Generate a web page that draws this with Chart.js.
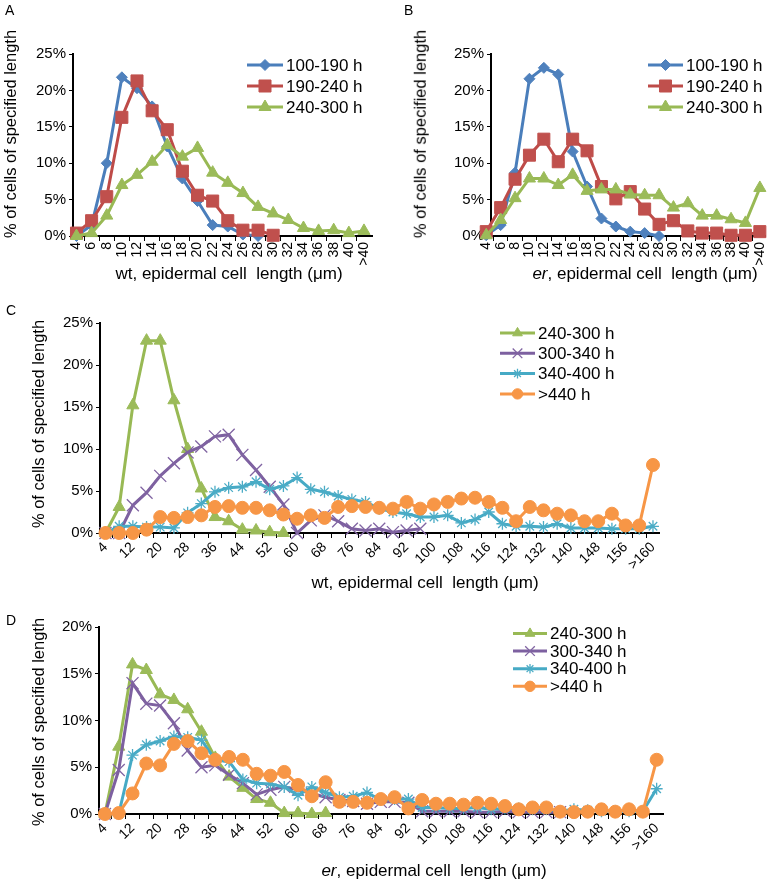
<!DOCTYPE html>
<html>
<head>
<meta charset="utf-8">
<script src="https://cdn.jsdelivr.net/npm/chart.js@4.4.1/dist/chart.umd.min.js"></script>
<style>
  body { margin: 0; background: #fff; overflow: hidden; }
  #fig { position: relative; width: 783px; height: 883px; font-family: "Liberation Sans", Arial, sans-serif; color: #000; }
  #fig canvas { position: absolute; }
  .lbl { position: absolute; white-space: pre; line-height: 1; }
  .letter { font-size: 14px; }
  .xt { font-size: 17px; transform: translate(-50%, -50%); }
  .yt { font-size: 16.5px; transform: translate(-50%, -50%) rotate(-90deg); }
</style>
</head>
<body>
<div id="fig">
  <canvas id="chartA" width="390" height="300" style="left:0;top:0"></canvas>
  <canvas id="chartB" width="393" height="300" style="left:390px;top:0"></canvas>
  <canvas id="chartC" width="783" height="300" style="left:0;top:300px"></canvas>
  <canvas id="chartD" width="783" height="283" style="left:0;top:600px"></canvas>

  <div class="lbl letter" style="left:5px;top:3px">A</div>
  <div class="lbl letter" style="left:404px;top:3px">B</div>
  <div class="lbl letter" style="left:6px;top:303px">C</div>
  <div class="lbl letter" style="left:6px;top:613px">D</div>

  <div class="lbl yt" style="left:10px;top:134px">% of cells of specified length</div>
  <div class="lbl yt" style="left:420px;top:134px">% of cells of specified length</div>
  <div class="lbl yt" style="left:38px;top:424px">% of cells of specified length</div>
  <div class="lbl yt" style="left:38px;top:722px">% of cells of specified length</div>

  <div class="lbl xt" style="left:229px;top:273px">wt, epidermal cell  length (μm)</div>
  <div class="lbl xt" style="left:645px;top:273px"><i>er</i>, epidermal cell  length (μm)</div>
  <div class="lbl xt" style="left:425px;top:582px">wt, epidermal cell  length (μm)</div>
  <div class="lbl xt" style="left:434px;top:870px"><i>er</i>, epidermal cell  length (μm)</div>
</div>

<script>
// categories (cell length bins, µm)
const catsAB = ['4','6','8','10','12','14','16','18','20','22','24','26','28','30','32','34','36','38','40','>40'];
const catsCD = ['4','8','12','16','20','24','28','32','36','40','44','48','52','56','60','64','68','72','76','80',
                '84','88','92','96','100','104','108','112','116','120','124','128','132','136','140','144','148','152','156','160','>160'];

// y tick labels (%)
const yTicksABC = [0, 5, 10, 15, 20, 25];
const yTicksD = [0, 5, 10, 15, 20];

// A: wt
const wt100_190 = [0, 1.5, 10, 21.8, 20.3, 17.8, 12.3, 7.9, 4.8, 1.5, 1.3, 0.2, 0];
const wt190_240 = [0.4, 2.1, 5.4, 16.3, 21.3, 17.2, 14.6, 8.9, 5.6, 4.8, 2.1, 0.8, 0.8, 0.1];
const wt240_300 = [0, 0.4, 2.8, 7.0, 8.4, 10.2, 12.5, 10.9, 12.1, 8.7, 7.3, 5.9, 4.0, 3.1, 2.2, 1.1, 0.7, 0.8, 0.4, 0.7];

// B: er
const er100_190 = [0.1, 1.5, 8.7, 21.6, 23.1, 22.2, 11.6, 6.8, 2.4, 1.3, 0.6, 0.4, 0];
const er190_240 = [0.6, 3.9, 7.8, 11.1, 13.3, 10.2, 13.3, 11.7, 6.8, 5.1, 6.1, 3.7, 1.6, 2.1, 0.7, 0.4, 0.4, 0.1, 0.1, 0.6];
const er240_300 = [0.1, 2.2, 5.2, 7.9, 7.9, 7.0, 8.4, 6.2, 6.4, 6.4, 5.7, 5.6, 5.6, 3.9, 4.5, 2.8, 2.8, 2.3, 1.8, 6.6];

// C: wt, later stages
const wtC240_300 = [0, 3.1, 15.2, 22.9, 22.9, 15.8, 10.0, 5.3, 1.9, 1.4, 0.4, 0.3, 0.1, 0];
const wtC300_340 = [0, 0, 3.3, 4.8, 6.8, 8.3, 9.6, 10.3, 11.5, 11.7, 9.3, 7.5, 5.5, 3.4, 0, 1.5, 2.1, 1.4, 0.5, 0.3, 0.5, 0.1, 0.3, 0.5];
const wtC340_400 = [0, 0.8, 0.8, 0.7, 0.7, 0.6, 2.4, 3.5, 4.9, 5.4, 5.5, 6.1, 5.2, 5.6, 6.6, 5.2, 4.9, 4.4, 4.0, 3.7,
                    2.9, 2.5, 2.3, 1.9, 1.9, 2.1, 1.2, 1.6, 2.5, 1.1, 0.8, 0.8, 0.7, 1.1, 0.6, 0.6, 0.6, 0.5, 0.5, 0.5, 0.8];
const wtC440 = [0, 0, 0, 0.4, 1.9, 1.8, 1.9, 2.1, 3.1, 3.2, 3.0, 3.0, 2.7, 2.2, 1.7, 2.1, 1.8, 3.1, 3.2, 3.1,
                3.0, 2.9, 3.7, 2.9, 3.4, 3.7, 4.1, 4.2, 3.7, 3.0, 1.4, 3.1, 2.7, 2.3, 2.1, 1.4, 1.4, 2.3, 0.9, 0.9, 8.1];

// D: er, later stages
const erD240_300 = [0, 7.2, 16.0, 15.4, 12.8, 12.2, 11.2, 8.8, 6.0, 4.0, 2.8, 1.6, 1.2, 0.1, 0.1, 0, 0.1];
const erD300_340 = [0, 4.7, 14.0, 11.8, 11.6, 9.7, 6.8, 5.0, 5.2, 4.2, 3.3, 2.1, 2.6, 2.9, 2.6, 2.2, 1.8, 1.5, 1.4, 1.1,
                    1.3, 1.3, 1.2, 0.3, 0.3, 0.3, 0.3, 0.2, 0.2, 0.3, 0.2, 0.2, 0.2, 0.2];
const erD340_400 = [0, 0, 6.3, 7.4, 7.8, 8.3, 8.2, 7.9, 5.8, 5.6, 3.7, 3.3, 3.2, 2.9, 2.0, 2.9, 2.3, 1.8, 1.9, 2.3,
                    1.5, 1.6, 1.6, 0.7, 0.7, 0.6, 0.6, 0.7, 0.5, 0.6, 0.6, 0.5, 0.5, 0.3, 0.5, 0.4, 0.3, 0.3, 0.3, 0.3, 2.7];
const erD440 = [0, 0.1, 2.2, 5.4, 5.2, 7.5, 7.8, 6.5, 5.8, 6.1, 5.8, 4.3, 4.1, 4.5, 3.1, 1.9, 3.4, 1.3, 1.3, 1.2,
                1.6, 1.8, 0.6, 1.5, 1.1, 1.1, 1.0, 1.2, 1.1, 0.85, 0.5, 0.7, 0.7, 0.25, 0.2, 0.25, 0.5, 0.25, 0.5, 0.25, 5.8];

const FONT = '"Liberation Sans", Arial, sans-serif';

// look of each age class (Excel 2007 palette)
const styles = {
    '100-190 h': { line: '#4A7EBB', fill: '#4F81BD', stroke: '#4F81BD', pointStyle: 'rectRot', radius: 5.5, pw: 1 },
    '190-240 h': { line: '#BE4B48', fill: '#C0504D', stroke: '#C0504D', pointStyle: 'rect', radius: 8.5, pw: 1 },
    '240-300 h': { line: '#98B954', fill: '#9BBB59', stroke: '#9BBB59', pointStyle: 'triangle', radius: 7, pw: 1 },
    '300-340 h': { line: '#7D60A0', fill: '#8064A2', stroke: '#8064A2', pointStyle: 'crossRot', radius: 8.5, pw: 1.3 },
    '340-400 h': { line: '#46AAC5', fill: '#4BACC6', stroke: '#4BACC6', pointStyle: 'star', radius: 6, pw: 1.3 },
    '>440 h':    { line: '#F79646', fill: '#F79646', stroke: '#F79646', pointStyle: 'circle', radius: 6.5, pw: 1 }
};

function makeDataset(label, values, order) {
    const s = styles[label];
    return {
        label: label,
        data: values.map((v, i) => ({ x: i, y: v })),
        xAxisID: 'x', yAxisID: 'y',
        borderColor: s.line, borderWidth: 3,
        pointStyle: s.pointStyle, pointRadius: s.radius,
        pointBackgroundColor: s.fill, pointBorderColor: s.stroke, pointBorderWidth: s.pw,
        tension: 0, clip: false, order: order
    };
}

// legend drawn inside the plot, like the Excel one
const insideLegend = {
    id: 'insideLegend',
    afterDraw(chart, args, opts) {
        const ctx = chart.ctx;
        ctx.save();
        chart.data.datasets.forEach((ds, i) => {
            const y = opts.y0 + i * opts.step;
            ctx.strokeStyle = ds.borderColor;
            ctx.lineWidth = 3;
            ctx.beginPath();
            ctx.moveTo(opts.x0, y);
            ctx.lineTo(opts.x1, y);
            ctx.stroke();
            if (Chart.helpers && Chart.helpers.drawPoint) {
                ctx.fillStyle = ds.pointBackgroundColor;
                ctx.strokeStyle = ds.pointBorderColor;
                ctx.lineWidth = ds.pointBorderWidth;
                Chart.helpers.drawPoint(ctx, { pointStyle: ds.pointStyle, radius: ds.pointRadius * opts.mscale, rotation: 0, borderWidth: ds.pointBorderWidth }, (opts.x0 + opts.x1) / 2, y);
            }
            ctx.fillStyle = '#000';
            ctx.font = opts.fontSize + 'px ' + FONT;
            ctx.textBaseline = 'middle';
            ctx.textAlign = 'left';
            ctx.fillText(ds.label, opts.x1 + 3, y + 1);
        });
        ctx.restore();
    }
};

// g: canvas size + wanted plot area (canvas px) + x range in category units
function makeChart(id, cats, every, yTicks, datasets, g, legend) {
    const n = datasets.length;
    datasets.forEach((d, i) => { d.order = n - i; });
    return new Chart(document.getElementById(id), {
        type: 'line',
        data: { datasets: datasets },
        plugins: [insideLegend],
        options: {
            responsive: false, animation: false, devicePixelRatio: 1, events: [],
            layout: { padding: { top: g.top, right: g.width - g.right, left: 0, bottom: 0 } },
            plugins: { legend: { display: false }, tooltip: { enabled: false }, insideLegend: legend },
            scales: {
                y: {
                    type: 'linear', position: 'left', min: 0, max: yTicks[yTicks.length - 1],
                    afterBuildTicks: ax => { ax.ticks = yTicks.map(v => ({ value: v })); },
                    afterFit: ax => { ax.width = g.left; },
                    ticks: { callback: v => v + '%', color: '#000', font: { family: FONT, size: 15 }, padding: 3 },
                    grid: { drawOnChartArea: false, color: '#000', tickLength: 4 },
                    border: { color: '#000', width: 2 }
                },
                xTicks: {
                    type: 'linear', position: 'bottom', weight: 0, min: g.xMin, max: g.xMax,
                    afterBuildTicks: ax => { ax.ticks = cats.slice(1).map((c, i) => ({ value: i + 0.5 })); },
                    afterFit: ax => { ax.height = 0; },
                    ticks: { display: false },
                    grid: { drawOnChartArea: false, color: '#000', tickLength: 5 },
                    border: { color: '#000', width: 2 }
                },
                x: {
                    type: 'linear', position: 'bottom', weight: 1, min: g.xMin, max: g.xMax,
                    afterBuildTicks: ax => { ax.ticks = cats.map((c, i) => ({ value: i })); },
                    afterFit: ax => { ax.height = g.height - g.bottom; },
                    ticks: {
                        autoSkip: false, minRotation: g.rot, maxRotation: g.rot, padding: 6,
                        color: '#000', font: { family: FONT, size: 14 },
                        callback: v => (v % every === 0 ? cats[v] : '')
                    },
                    grid: { display: false, drawTicks: false },
                    border: { display: false }
                }
            }
        }
    });
}

makeChart('chartA', catsAB, 1, yTicksABC, [
    makeDataset('100-190 h', wt100_190),
    makeDataset('190-240 h', wt190_240),
    makeDataset('240-300 h', wt240_300)
], { width: 390, height: 300, left: 73, right: 372, top: 54, bottom: 236, xMin: -0.23, xMax: 19.53, rot: 90 },
   { x0: 247, x1: 283, y0: 65, step: 21, fontSize: 17, mscale: 1 });

makeChart('chartB', catsAB, 1, yTicksABC, [
    makeDataset('100-190 h', er100_190),
    makeDataset('190-240 h', er190_240),
    makeDataset('240-300 h', er240_300)
], { width: 393, height: 300, left: 101, right: 388, top: 54, bottom: 236, xMin: 0.33, xMax: 19.38, rot: 90 },
   { x0: 258, x1: 293, y0: 65, step: 21, fontSize: 17, mscale: 1 });

makeChart('chartC', catsCD, 2, yTicksABC, [
    makeDataset('240-300 h', wtC240_300),
    makeDataset('300-340 h', wtC300_340),
    makeDataset('340-400 h', wtC340_400),
    makeDataset('>440 h', wtC440)
], { width: 783, height: 300, left: 100, right: 659, top: 23, bottom: 233, xMin: -0.4, xMax: 40.44, rot: 45 },
   { x0: 500, x1: 535, y0: 33, step: 20.3, fontSize: 17, mscale: 0.8 });

makeChart('chartD', catsCD, 2, yTicksD, [
    makeDataset('240-300 h', erD240_300),
    makeDataset('300-340 h', erD300_340),
    makeDataset('340-400 h', erD340_400),
    makeDataset('>440 h', erD440)
], { width: 783, height: 283, left: 99, right: 663, top: 27, bottom: 214, xMin: -0.43, xMax: 40.46, rot: 45 },
   { x0: 513, x1: 547, y0: 33.5, step: 17.6, fontSize: 17, mscale: 0.8 });
</script>
</body>
</html>
